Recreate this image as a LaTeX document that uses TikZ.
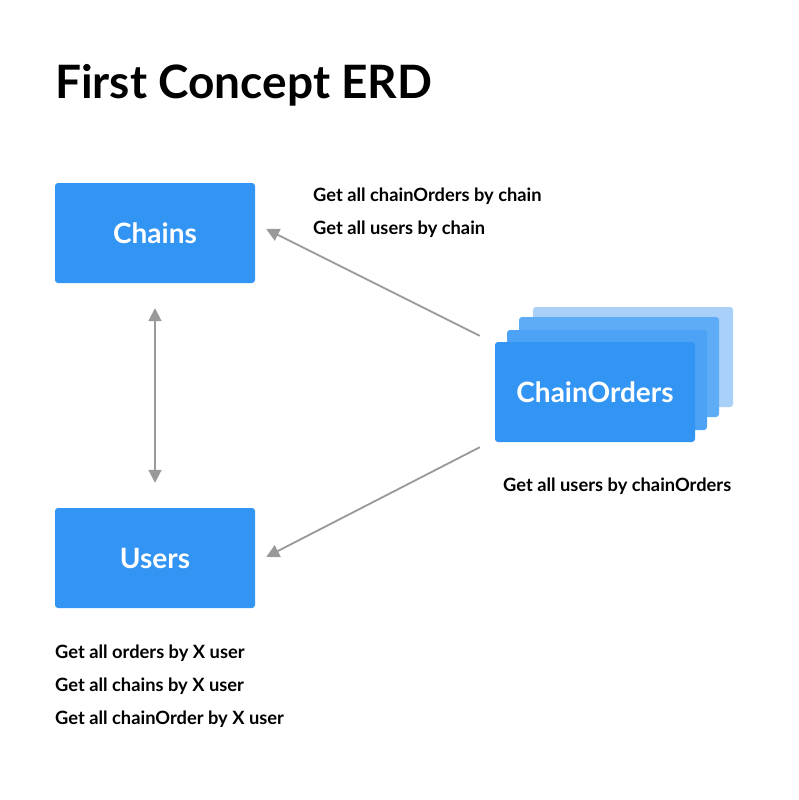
\documentclass[tikz,border=0pt]{standalone}
\usepackage{fontspec}
\setmainfont{Lato}
\usetikzlibrary{arrows.meta,calc}
\definecolor{cblue}{HTML}{3395F3}
\definecolor{cblueA}{HTML}{4CA2F4}
\definecolor{cblueB}{HTML}{5FACF6}
\definecolor{cblueC}{HTML}{A9D0F9}
\definecolor{cgray}{HTML}{999999}
\begin{document}
\begin{tikzpicture}[x=1pt,y=-1pt,
  entity/.style={fill=cblue, rounded corners=3pt, minimum width=200pt, minimum height=100pt,
    inner sep=0pt, text=white, font=\bfseries\fontsize{28}{32}\selectfont},
  layer/.style={rounded corners=3pt, minimum width=200pt, minimum height=100pt, inner sep=0pt},
  note/.style={anchor=base west, inner sep=0pt, font=\bfseries\fontsize{18.3}{22}\selectfont},
  arr/.style={draw=cgray, line width=1.8pt, -{Triangle[length=13pt,width=13pt]}},
  darr/.style={draw=cgray, line width=1.8pt, {Triangle[length=13pt,width=13pt]}-{Triangle[length=13pt,width=13pt]}}
]
\useasboundingbox[fill=white] (0,0) rectangle (798,800);
\node[anchor=base west, inner sep=0pt, font=\bfseries\fontsize{46}{54}\selectfont] (title) at (55,98) {First Concept ERD};

\node[entity] (chains) at (155,233) {Chains};
\node[entity] (users) at (155,558) {Users};

\node[layer, fill=cblueC] (l3) at (633,357) {};
\node[layer, fill=cblueB] (l2) at (619,367) {};
\node[layer, fill=cblueA] (l1) at (607,380) {};
\node[entity] (co) at (595,392) {ChainOrders};

\draw[darr, shorten <=25pt, shorten >=25pt] (chains.south) -- (users.north);

\coordinate (a1s) at ($(co.north west)+(-15,-6)$);
\coordinate (a1e) at ($(chains.east)+(11,-4)$);
\coordinate (a2s) at ($(co.south west)+(-15,5)$);
\coordinate (a2e) at ($(users.east)+(11,-1)$);
\draw[arr] (a1s) -- (a1e);
\draw[arr] (a2s) -- (a2e);

\node[note] (n1) at (313,201) {Get all chainOrders by chain};
\node[note] (n2) at (313,234) {Get all users by chain};
\node[note] (n3) at (503,491) {Get all users by chainOrders};
\node[note] (n4) at (55,658) {Get all orders by X user};
\node[note] (n5) at (55,691) {Get all chains by X user};
\node[note] (n6) at (55,724) {Get all chainOrder by X user};
\end{tikzpicture}
\end{document}
